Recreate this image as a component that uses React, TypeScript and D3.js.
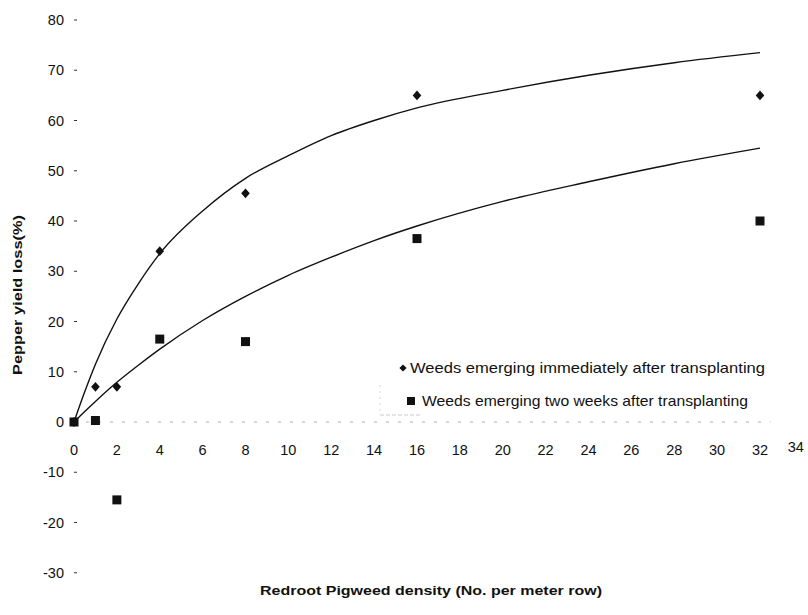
import React from "react";
import * as d3 from "d3";

const densities = [0, 1, 2, 4, 8, 16, 32];
const lossImmediate = [0, 7, 7, 34, 45.5, 65, 65];
const lossTwoWeeks = [0, 0.3, -15.5, 16.5, 16, 36.5, 40];

const curveX = [0, 0.5, 1, 2, 3, 4, 6, 8, 10, 12, 14, 16, 20, 24, 28, 32];
const curveImmediate = [0, 6, 11.5, 20.5, 27.5, 33.5, 42, 48.5, 53, 57, 60, 62.5, 66, 69, 71.5, 73.5];
const curveTwoWeeks = [0, 2.1, 4.1, 7.9, 11.3, 14.5, 20.2, 25, 29.2, 32.8, 36.1, 39, 43.9, 47.8, 51.4, 54.5];

const xTicks = [0, 2, 4, 6, 8, 10, 12, 14, 16, 18, 20, 22, 24, 26, 28, 30, 32, 34];
const yTicks = [-30, -20, -10, 0, 10, 20, 30, 40, 50, 60, 70, 80];

const legendLabels = [
  "Weeds emerging immediately after transplanting",
  "Weeds emerging two weeks after transplanting",
];

const W = 808;
const H = 615;
const FONT = "'Liberation Sans', Arial, Helvetica, sans-serif";

export default function App() {
  const x = d3.scaleLinear().domain([0, 32]).range([74, 760]);
  const y = d3.scaleLinear().domain([0, 80]).range([422, 20]);

  const line = d3
    .line<number>()
    .x((_, i) => x(curveX[i]))
    .y((d) => y(d))
    .curve(d3.curveMonotoneX);

  const diamond = d3.symbol().type(d3.symbolDiamond2).size(52)();
  const square = (s: number) => `M${-s / 2},${-s / 2}h${s}v${s}h${-s}Z`;

  return (
    <svg
      width={W}
      height={H}
      viewBox={`0 0 ${W} ${H}`}
      style={{ position: "absolute", left: 0, top: 0, background: "#fff" }}
      fontFamily={FONT}
    >
      <rect x={0} y={0} width={W} height={H} fill="#fff" />
      {/* zero line */}
      <line
        x1={x(0)}
        x2={x(32.5)}
        y1={y(0)}
        y2={y(0)}
        stroke="#999"
        strokeWidth={0.8}
        strokeDasharray="3,9"
      />
      {/* faint legend box remains */}
      <line x1={380} x2={380} y1={385} y2={415} stroke="#bbb" strokeWidth={0.6} strokeDasharray="2,4" />
      <line x1={380} x2={420} y1={415} y2={415} stroke="#aaa" strokeWidth={0.6} strokeDasharray="4,2" />

      {/* y ticks */}
      {yTicks.map((t) => (
        <g key={`y${t}`}>
          <line x1={74} x2={77} y1={y(t)} y2={y(t)} stroke="#333" strokeWidth={1} />
          <text
            x={64}
            y={y(t)}
            dy="0.35em"
            textAnchor="end"
            fontSize={14.5}
            fill="#111"
          >
            {t}
          </text>
        </g>
      ))}

      {/* x tick labels */}
      {xTicks.map((t) => (
        <text
          key={`x${t}`}
          x={t === 34 ? x(t) - 7 : x(t)}
          y={t === 34 ? 447 : 450}
          dy="0.35em"
          textAnchor="middle"
          fontSize={14.5}
          fill="#111"
        >
          {t}
        </text>
      ))}

      {/* fitted curves */}
      <path d={line(curveImmediate) || ""} fill="none" stroke="#111" strokeWidth={1.4} />
      <path d={line(curveTwoWeeks) || ""} fill="none" stroke="#111" strokeWidth={1.4} />

      {/* data points */}
      {densities.map((d, i) => (
        <path
          key={`s${i}`}
          d={square(9)}
          transform={`translate(${x(d)},${y(lossTwoWeeks[i])})`}
          fill="#111"
        />
      ))}
      {densities.map((d, i) => (
        <path
          key={`d${i}`}
          d={diamond || ""}
          transform={`translate(${x(d)},${y(lossImmediate[i])}) scale(0.95,1.08)`}
          fill="#111"
        />
      ))}

      {/* legend */}
      <path d={diamond || ""} transform="translate(403,368) scale(0.8)" fill="#111" />
      <text
        x={410}
        y={368}
        dy="0.35em"
        fontSize={14.5}
        fill="#111"
        textLength={355}
        lengthAdjust="spacingAndGlyphs"
      >
        {legendLabels[0]}
      </text>
      <path d={square(8)} transform="translate(411,401)" fill="#111" />
      <text
        x={422}
        y={401}
        dy="0.35em"
        fontSize={14.5}
        fill="#111"
        textLength={326}
        lengthAdjust="spacingAndGlyphs"
      >
        {legendLabels[1]}
      </text>

      {/* axis titles */}
      <text
        transform="translate(17,295) rotate(-90)"
        textAnchor="middle"
        dy="0.35em"
        fontSize={13}
        fontWeight="bold"
        fill="#111"
        textLength={160}
        lengthAdjust="spacingAndGlyphs"
      >
        Pepper yield loss(%)
      </text>
      <text
        x={431}
        y={590}
        dy="0.35em"
        textAnchor="middle"
        fontSize={13}
        fontWeight="bold"
        fill="#111"
        textLength={342}
        lengthAdjust="spacingAndGlyphs"
      >
        Redroot Pigweed density (No. per meter row)
      </text>
    </svg>
  );
}
